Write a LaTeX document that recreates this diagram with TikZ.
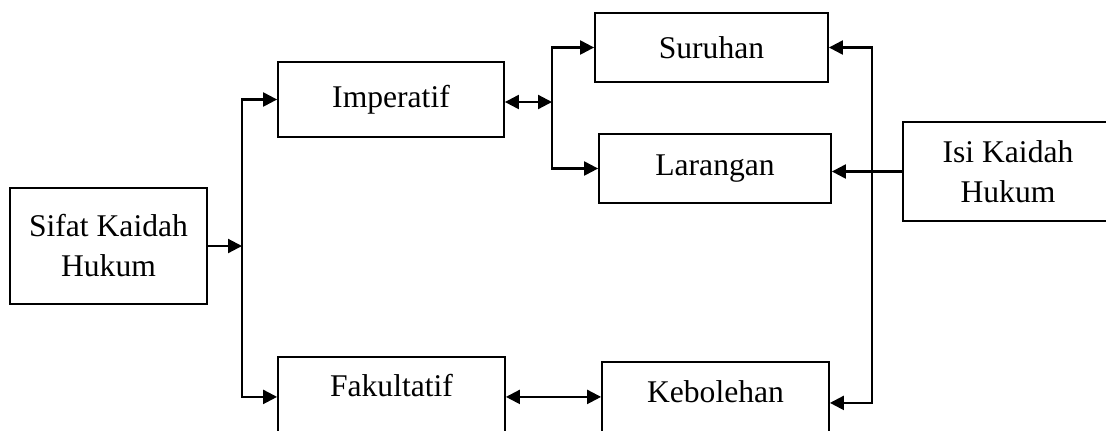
\documentclass[tikz,border=0pt]{standalone}
\usepackage{fontspec}
\setmainfont{Liberation Serif}
\usetikzlibrary{arrows.meta}

\begin{document}
\begin{tikzpicture}[x=0.5pt, y=-0.5pt,
    box/.style={draw, line width=0.9pt, align=center, font=\fontsize{15.8pt}{20pt}\selectfont},
    arr/.style={-{Triangle[length=7pt,width=7pt]}, line width=1.1pt},
    dbl/.style={{Triangle[length=7pt,width=7pt]}-{Triangle[length=7pt,width=7pt]}, line width=1.1pt}]
        \useasboundingbox (0,0) rectangle (1106,430);
        \clip (0,0) rectangle (1106,430);

        \node[box, minimum width=98.5pt, minimum height=58pt] (Sifat) at (108.5,246) {Sifat Kaidah\\Hukum};
        \node[box, minimum width=113pt, minimum height=37.5pt] (Imperatif) at (391,99.5) {Imperatif};
        \node[box, anchor=north, minimum width=113.5pt, inner ysep=0pt, text height=20pt, text depth=26pt] (Fakultatif) at (391.5,356) {Fakultatif};
        \node[box, minimum width=116.5pt, minimum height=34.5pt] (Suruhan) at (711.5,47.5) {Suruhan};
        \node[box, minimum width=116pt, minimum height=34.5pt] (Larangan) at (715,168.5) {Larangan};
        \node[box, anchor=north, minimum width=113.5pt, inner ysep=0pt, text height=20.5pt, text depth=24pt] (Kebolehan) at (715.5,361) {Kebolehan};
        \node[box, minimum width=105pt, minimum height=49.5pt] (Isi) at (1008,171.5) {Isi Kaidah\\Hukum};

        \coordinate (jSifat) at (242,246);
        \coordinate (jImp) at (552,102);
        \coordinate (jIsi) at (872,171.5);

        \draw[arr] (Sifat.east) -- (jSifat);
        \draw[arr] (jSifat) |- (Imperatif.west);
        \draw[arr] (jSifat) |- (Fakultatif.base west);
        \draw[dbl] (Imperatif.east |- jImp) -- (jImp);
        \draw[arr] (jImp) |- (Suruhan.west);
        \draw[arr] (jImp) |- (Larangan.west);
        \draw[dbl] (Fakultatif.base east) -- (Fakultatif.base east -| Kebolehan.west);
        \draw[arr] (Isi.west) -- (Isi.west -| Larangan.east);
        \draw[arr] (jIsi) |- (Suruhan.east);
        \draw[arr] (jIsi) |- (Kebolehan.base east);
    \end{tikzpicture}
\end{document}
